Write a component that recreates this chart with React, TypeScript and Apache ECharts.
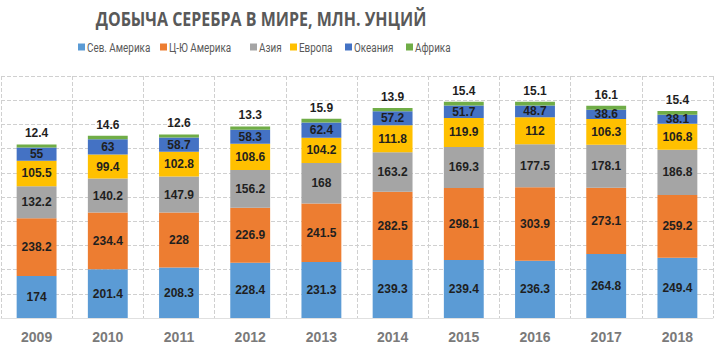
import React, { useEffect, useRef } from "react";
import * as echarts from "echarts";

const years = ["2009", "2010", "2011", "2012", "2013", "2014", "2015", "2016", "2017", "2018"];
const northAmerica = [174, 201.4, 208.3, 228.4, 231.3, 239.3, 239.4, 236.3, 264.8, 249.4];
const southAmerica = [238.2, 234.4, 228, 226.9, 241.5, 282.5, 298.1, 303.9, 273.1, 259.2];
const asia = [132.2, 140.2, 147.9, 156.2, 168, 163.2, 169.3, 177.5, 178.1, 186.8];
const europe = [105.5, 99.4, 102.8, 108.6, 104.2, 111.8, 119.9, 112, 106.3, 106.8];
const oceania = [55, 63, 58.7, 58.3, 62.4, 57.2, 51.7, 48.7, 38.6, 38.1];
const africa = [12.4, 14.6, 12.6, 13.3, 15.9, 13.9, 15.4, 15.1, 16.1, 15.4];
const titleText = "ДОБЫЧА СЕРЕБРА В МИРЕ, МЛН. УНЦИЙ";

const seriesDefs = [
  { name: "Сев. Америка", data: northAmerica, color: "#5B9BD5" },
  { name: "Ц-Ю Америка", data: southAmerica, color: "#ED7D31" },
  { name: "Азия", data: asia, color: "#A5A5A5" },
  { name: "Европа", data: europe, color: "#FFC000" },
  { name: "Океания", data: oceania, color: "#4472C4" },
  { name: "Африка", data: africa, color: "#70AD47" },
];

// legend item left positions (layout)
const legendX = [78, 160, 250, 290, 345, 406];

export default function App() {
  const ref = useRef<HTMLDivElement>(null);
  useEffect(() => {
    if (!ref.current) return;
    const chart = echarts.init(ref.current, undefined, { renderer: "svg" });
    const legendItems: any[] = [];
    seriesDefs.forEach((s, i) => {
      legendItems.push({
        type: "rect",
        shape: { x: legendX[i], y: 43.5, width: 7, height: 7 },
        style: { fill: s.color },
      });
      legendItems.push({
        type: "text",
        x: legendX[i] + 9,
        y: 47.5,
        scaleX: 0.76,
        style: {
          text: s.name,
          fontFamily: "Roboto",
          fontSize: 13,
          fill: "#595959",
          align: "left",
          verticalAlign: "middle",
        },
      });
    });
    chart.setOption({
      animation: false,
      backgroundColor: "#ffffff",
      graphic: [
        {
          type: "text",
          x: 261,
          y: 18,
          scaleX: 0.8,
          style: {
            text: titleText,
            fontFamily: "Open Sans",
            fontWeight: "bold",
            fontSize: 20,
            fill: "#595959",
            align: "center",
            verticalAlign: "middle",
          },
        },
        ...legendItems,
      ],
      grid: { left: 1, right: 2, top: 76, bottom: 26, containLabel: false },
      xAxis: {
        type: "category",
        data: years,
        axisTick: { show: false },
        axisLine: { show: true, lineStyle: { color: "#e0e0e0" } },
        axisLabel: {
          fontFamily: "Liberation Sans",
          fontWeight: "bold",
          fontSize: 14,
          color: "#7a7a7a",
          margin: 12,
        },
        splitLine: { show: true, lineStyle: { type: "dashed", color: "#d0d0d0" } },
      },
      yAxis: {
        type: "value",
        min: 0,
        max: 1000,
        interval: 100,
        axisLabel: { show: false },
        axisLine: { show: false },
        axisTick: { show: false },
        splitLine: { show: true, lineStyle: { type: "dashed", color: "#d0d0d0" } },
      },
      series: seriesDefs.map((s, i) => ({
        name: s.name,
        type: "bar",
        stack: "total",
        barWidth: "56%",
        data: s.data,
        itemStyle: { color: s.color },
        label: {
          show: true,
          position: i === 5 ? "top" : "inside",
          distance: 5,
          fontFamily: "Liberation Sans",
          fontWeight: "bold",
          fontSize: 12,
          color: "#1f1f1f",
        },
      })),
    });
    return () => chart.dispose();
  }, []);
  return (
    <div
      ref={ref}
      style={{ position: "absolute", left: 0, top: 0, width: 715, height: 344 }}
    />
  );
}
